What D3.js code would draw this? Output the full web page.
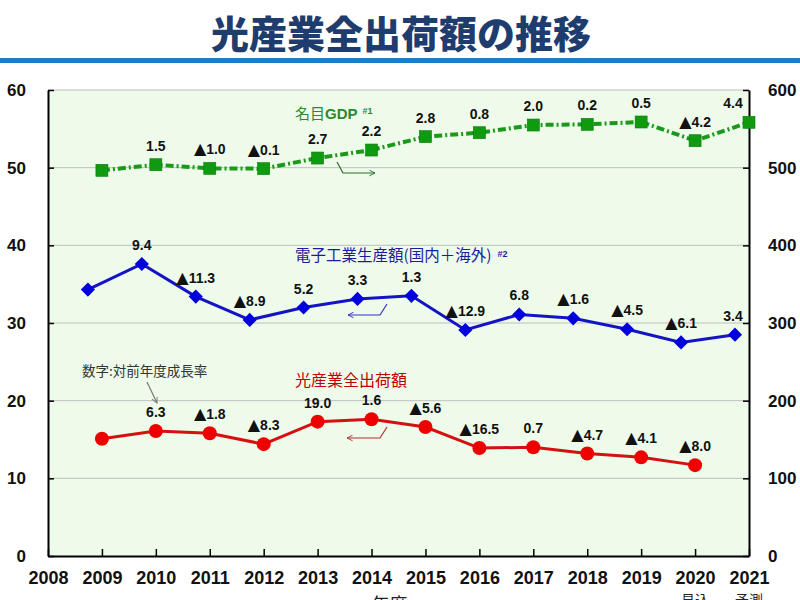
<!DOCTYPE html>
<html>
<head>
<meta charset="utf-8">
<script src="https://cdn.jsdelivr.net/npm/d3@7"></script>
<style>
body { margin: 0; background: #fff; }
svg { display: block; }
</style>
</head>
<body>
<svg id="chart"></svg>
<script>
// fiscal years
var years = [2009, 2010, 2011, 2012, 2013, 2014, 2015, 2016, 2017, 2018, 2019, 2020, 2021];

// nominal GDP (right axis)
var gdpValues = [496.6, 503.8, 499.1, 498.7, 512.4, 522.7, 539.9, 545.0, 554.9, 555.8, 558.8, 534.7, 558.4];
var gdpGrowth = [null, "1.5", "▲1.0", "▲0.1", "2.7", "2.2", "2.8", "0.8", "2.0", "0.2", "0.5", "▲4.2", "4.4"];

// electronics production, domestic + overseas (left axis)
var elecValues = [34.3, 37.6, 33.4, 30.4, 32.0, 33.1, 33.5, 29.1, 31.1, 30.6, 29.2, 27.5, 28.5];
var elecGrowth = [null, "9.4", "▲11.3", "▲8.9", "5.2", "3.3", "1.3", "▲12.9", "6.8", "▲1.6", "▲4.5", "▲6.1", "3.4"];

// optical industry total shipments (left axis), 2009-2020
var opticalValues = [15.1, 16.1, 15.8, 14.4, 17.3, 17.6, 16.6, 13.9, 14.0, 13.2, 12.7, 11.7];
var opticalGrowth = [null, "6.3", "▲1.8", "▲8.3", "19.0", "1.6", "▲5.6", "▲16.5", "0.7", "▲4.7", "▲4.1", "▲8.0"];

// axis ticks
var xTicks = [2008, 2009, 2010, 2011, 2012, 2013, 2014, 2015, 2016, 2017, 2018, 2019, 2020, 2021];
var leftTicks = [0, 10, 20, 30, 40, 50, 60];
var rightTicks = [0, 100, 200, 300, 400, 500, 600];
var noteYears = [2020, 2021];
var noteTexts = ["見込", "予測"];

var numFont = "'Liberation Sans', Arial, sans-serif";
var jpFont = "'Noto Sans CJK JP', sans-serif";

// set the dimensions and margins of the graph
var margin = {top: 90, right: 51, bottom: 44, left: 48},
  width = 800 - margin.left - margin.right,
  height = 600 - margin.top - margin.bottom;

var root = d3.select("#chart")
  .attr("width", 800)
  .attr("height", 600);

// title + blue rule
root.append("text")
  .attr("x", 401)
  .attr("y", 47.5)
  .attr("text-anchor", "middle")
  .style("font-family", jpFont)
  .style("font-weight", 900)
  .style("font-size", "38px")
  .style("fill", "#1f3c6e")
  .text("光産業全出荷額の推移");

root.append("rect")
  .attr("x", 0)
  .attr("y", 58)
  .attr("width", 800)
  .attr("height", 5)
  .attr("fill", "#1c7cc6");

var svg = root.append("g")
  .attr("transform", "translate(" + margin.left + "," + margin.top + ")");

// arrow markers
var defs = root.append("defs");
[["arrGreen", "#2e6b2e"], ["arrBlue", "#3030c0"], ["arrRed", "#b03030"], ["arrGray", "#777"]].forEach(function(m) {
  defs.append("marker")
    .attr("id", m[0])
    .attr("viewBox", "0 0 10 10")
    .attr("refX", 9)
    .attr("refY", 5)
    .attr("markerWidth", 7)
    .attr("markerHeight", 7)
    .attr("markerUnits", "userSpaceOnUse")
    .attr("orient", "auto")
    .append("path")
    .attr("d", "M1,1 L9,5 L1,9")
    .attr("fill", "none")
    .attr("stroke", m[1])
    .attr("stroke-width", 1.3);
});

// scales
var x = d3.scaleLinear().domain([2008, 2021]).range([0, width]);
var yLeft = d3.scaleLinear().domain([0, 60]).range([height, 0]);
var yRight = d3.scaleLinear().domain([0, 600]).range([height, 0]);
var elecShift = -0.26; // electronics markers sit a little left of the tick

// plot background
svg.append("rect")
  .attr("width", width)
  .attr("height", height)
  .attr("fill", "#effbea");

// grid
svg.append("g")
  .selectAll("line")
  .data(leftTicks.slice(1))
  .enter()
  .append("line")
  .attr("x1", 0)
  .attr("x2", width)
  .attr("y1", function(d) { return yLeft(d); })
  .attr("y2", function(d) { return yLeft(d); })
  .attr("stroke", "#bfbfbf")
  .attr("stroke-width", 1);

// axes
var xAxis = svg.append("g")
  .attr("transform", "translate(0," + height + ")")
  .call(d3.axisBottom(x).tickValues(xTicks).tickFormat(d3.format("d"))
    .tickSizeInner(-7).tickSizeOuter(0).tickPadding(15));

var leftAxis = svg.append("g")
  .call(d3.axisLeft(yLeft).tickValues(leftTicks)
    .tickSizeInner(-6).tickSizeOuter(0).tickPadding(22));

var rightAxis = svg.append("g")
  .attr("transform", "translate(" + width + ",0)")
  .call(d3.axisRight(yRight).tickValues(rightTicks)
    .tickSizeInner(-6).tickSizeOuter(0).tickPadding(19));

[xAxis, leftAxis, rightAxis].forEach(function(a) {
  a.select(".domain").attr("stroke", "#000").attr("stroke-width", 2);
  a.selectAll(".tick line").attr("stroke", "#000").attr("stroke-width", 1.5);
  a.selectAll("text")
    .style("font-family", numFont)
    .style("font-weight", "bold")
    .style("font-size", "17px")
    .attr("fill", "#111");
});
xAxis.selectAll("text").style("font-size", "18px");

// notes under the last years
svg.append("g")
  .selectAll("text")
  .data(noteYears)
  .enter()
  .append("text")
  .attr("x", function(d) { return x(d); })
  .attr("y", height + 49)
  .attr("text-anchor", "middle")
  .style("font-family", jpFont)
  .style("font-size", "14px")
  .attr("fill", "#222")
  .text(function(d, i) { return noteTexts[i]; });

svg.append("text")
  .attr("x", x(2014) + 18)
  .attr("y", height + 55)
  .attr("text-anchor", "middle")
  .style("font-family", jpFont)
  .style("font-size", "18px")
  .attr("fill", "#222")
  .text("年度");

// lines
var gdpLine = d3.line()
  .x(function(d, i) { return x(years[i]); })
  .y(function(d) { return yRight(d); });
var elecLine = d3.line()
  .x(function(d, i) { return x(years[i] + elecShift); })
  .y(function(d) { return yLeft(d); });
var opticalLine = d3.line()
  .x(function(d, i) { return x(years[i]); })
  .y(function(d) { return yLeft(d); });

svg.append("path")
  .datum(gdpValues)
  .attr("d", gdpLine)
  .attr("fill", "none")
  .attr("stroke", "#1a9a1a")
  .attr("stroke-width", 4)
  .attr("stroke-dasharray", "8,3,2,3");

svg.append("path")
  .datum(elecValues)
  .attr("d", elecLine)
  .attr("fill", "none")
  .attr("stroke", "#1414c4")
  .attr("stroke-width", 3);

svg.append("path")
  .datum(opticalValues)
  .attr("d", opticalLine)
  .attr("fill", "none")
  .attr("stroke", "#d41010")
  .attr("stroke-width", 3);

// markers
svg.append("g")
  .selectAll("rect")
  .data(gdpValues)
  .enter()
  .append("rect")
  .attr("x", function(d, i) { return x(years[i]) - 6; })
  .attr("y", function(d) { return yRight(d) - 6; })
  .attr("width", 12)
  .attr("height", 12)
  .attr("fill", "#109a10")
  .attr("stroke", "#0b7a0b")
  .attr("stroke-width", 0.6);

svg.append("g")
  .selectAll("path")
  .data(elecValues)
  .enter()
  .append("path")
  .attr("d", d3.symbol(d3.symbolSquare, 100))
  .attr("transform", function(d, i) {
    return "translate(" + x(years[i] + elecShift) + "," + yLeft(d) + ") rotate(45)";
  })
  .attr("fill", "#0000dd");

svg.append("g")
  .selectAll("circle")
  .data(opticalValues)
  .enter()
  .append("circle")
  .attr("cx", function(d, i) { return x(years[i]); })
  .attr("cy", function(d) { return yLeft(d); })
  .attr("r", 7)
  .attr("fill", "#ee0000");

// growth labels above the points (▲ = negative)
function growthLabels(values, labels, shift, yScale) {
  var idx = d3.range(values.length).filter(function(i) { return labels[i] != null; });
  var t = svg.append("g")
    .selectAll("text")
    .data(idx)
    .enter()
    .append("text")
    .attr("x", function(i) { return Math.min(x(years[i] + shift), width - 16); })
    .attr("y", function(i) { return yScale(values[i]) - 19; })
    .attr("dy", "0.36em")
    .attr("text-anchor", "middle")
    .style("font-family", numFont)
    .style("font-weight", "bold")
    .style("font-size", "14px")
    .attr("fill", "#111");
  t.filter(function(i) { return labels[i].charAt(0) == "▲"; })
    .append("tspan")
    .style("font-family", "'DejaVu Sans'")
    .style("font-size", "16px")
    .text("▲");
  t.append("tspan")
    .text(function(i) { return labels[i].replace("▲", ""); });
}
growthLabels(gdpValues, gdpGrowth, 0, yRight);
growthLabels(elecValues, elecGrowth, elecShift, yLeft);
growthLabels(opticalValues, opticalGrowth, 0, yLeft);

// series names
var gdpName = svg.append("text")
  .attr("x", 247)
  .attr("y", 28.5)
  .style("font-size", "15px")
  .attr("fill", "#2a8a2a");
gdpName.append("tspan").style("font-family", jpFont).text("名目");
gdpName.append("tspan").style("font-family", numFont).style("font-weight", "bold").text("GDP");
gdpName.append("tspan").attr("dx", 5).attr("dy", -5).style("font-family", numFont)
  .style("font-weight", "bold").style("font-size", "9px").text("#1");

var elecName = svg.append("text")
  .attr("x", 247)
  .attr("y", 170.5)
  .style("font-size", "15.5px")
  .attr("fill", "#1c1ca0");
elecName.append("tspan").style("font-family", jpFont).text("電子工業生産額(国内＋海外)");
elecName.append("tspan").attr("dx", 6).attr("dy", -4).style("font-family", numFont)
  .style("font-weight", "bold").style("font-size", "9px").text("#2");

svg.append("text")
  .attr("x", 247)
  .attr("y", 296)
  .style("font-family", jpFont)
  .style("font-size", "16px")
  .attr("fill", "#c00000")
  .text("光産業全出荷額");

svg.append("text")
  .attr("x", 34)
  .attr("y", 286)
  .style("font-family", jpFont)
  .style("font-size", "13.5px")
  .attr("fill", "#333")
  .text("数字:対前年度成長率");

// axis pointer arrows
function arrow(d, color, id) {
  svg.append("path")
    .attr("d", d)
    .attr("fill", "none")
    .attr("stroke", color)
    .attr("stroke-width", 1.2)
    .attr("marker-end", "url(#" + id + ")");
}
arrow("M289,72 L295,83 L327,83", "#2e6b2e", "arrGreen");
arrow("M339,214 L332,225 L300,225", "#3030c0", "arrBlue");
arrow("M339,337 L332,348 L299,348", "#b03030", "arrRed");
arrow("M99,292 L109,313", "#777", "arrGray");
</script>
</body>
</html>
